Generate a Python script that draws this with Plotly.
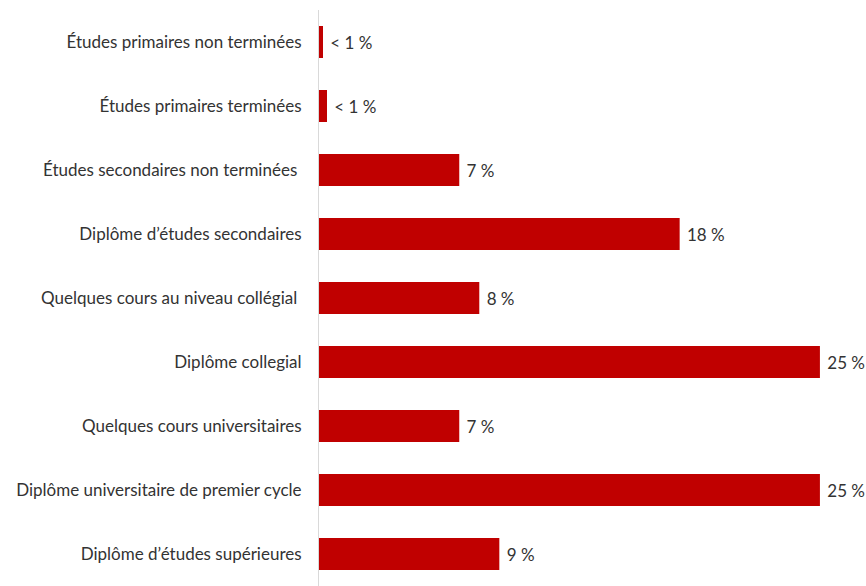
import plotly.graph_objects as go

# Niveau de scolarité (du haut vers le bas)
categories = [
    "Études primaires non terminées",
    "Études primaires terminées",
    "Études secondaires non terminées\u00a0",
    "Diplôme d’études secondaires",
    "Quelques cours au niveau collégial\u00a0",
    "Diplôme collegial",
    "Quelques cours universitaires",
    "Diplôme universitaire de premier cycle",
    "Diplôme d’études supérieures",
]
values = [0.2, 0.4, 7, 18, 8, 25, 7, 25, 9]
labels = ["< 1 %", "< 1 %", "7 %", "18 %", "8 %", "25 %", "7 %", "25 %", "9 %"]

BAR_COLOR = "#C00000"
TEXT_COLOR = "#333333"
FONT = "Lato, 'Open Sans', sans-serif"
FONT_SIZE = 17

fig = go.Figure(
    go.Bar(
        y=categories,
        x=values,
        orientation="h",
        marker=dict(color=BAR_COLOR, line=dict(width=0)),
        text=["\u00a0" + t for t in labels],
        textposition="outside",
        textfont=dict(family=FONT, size=FONT_SIZE, color=TEXT_COLOR),
        cliponaxis=False,
        hoverinfo="skip",
    )
)

fig.update_layout(
    width=866,
    height=586,
    margin=dict(l=319, r=0, t=10, b=0),
    paper_bgcolor="white",
    plot_bgcolor="white",
    bargap=0.5,
    showlegend=False,
    uniformtext=dict(minsize=FONT_SIZE, mode="show"),
    font=dict(family=FONT, size=FONT_SIZE, color=TEXT_COLOR),
)

fig.update_xaxes(
    range=[0, 27.3],
    showgrid=False,
    zeroline=False,
    showticklabels=False,
    showline=False,
    fixedrange=True,
)

fig.update_yaxes(
    autorange="reversed",
    showgrid=False,
    zeroline=False,
    showline=True,
    linecolor="#D9D9D9",
    linewidth=1,
    ticks="",
    ticklabelstandoff=13,
    tickfont=dict(family=FONT, size=FONT_SIZE, color=TEXT_COLOR),
    fixedrange=True,
)

fig.write_html("out.html")
